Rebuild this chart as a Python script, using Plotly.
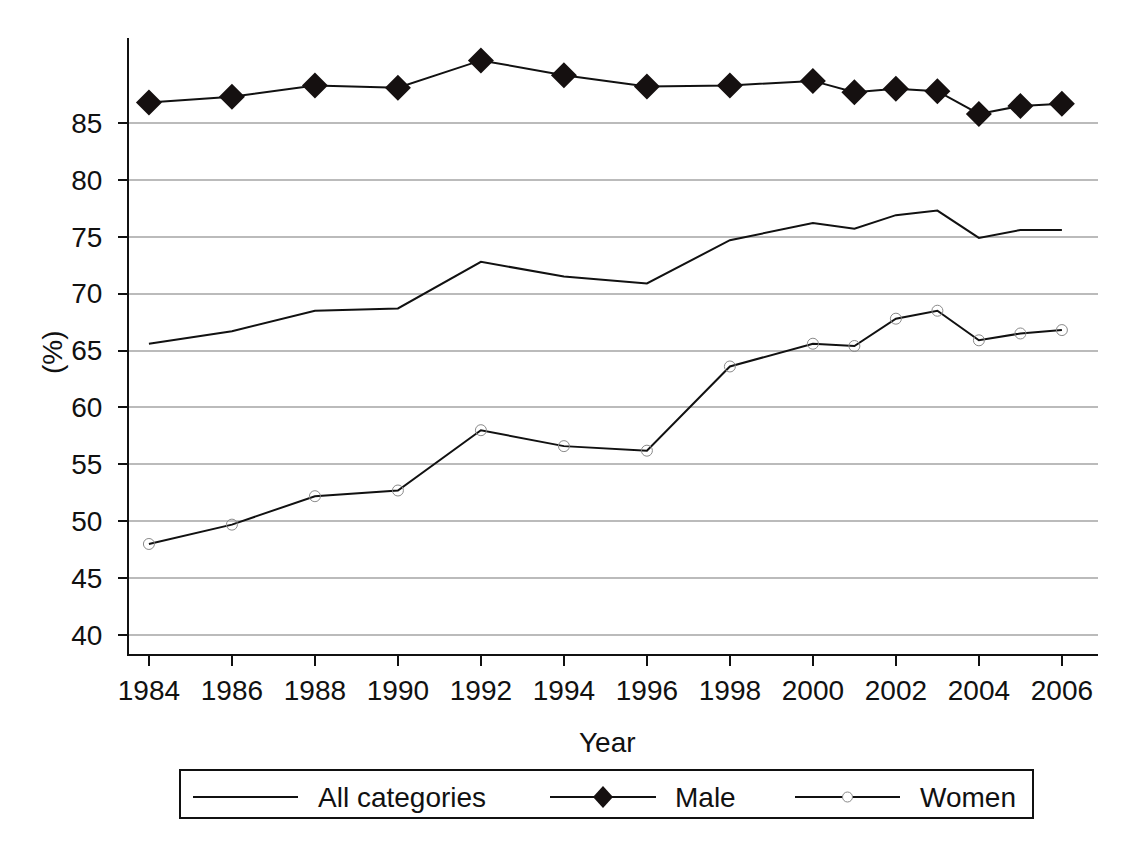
import plotly.graph_objects as go

years = [1984, 1986, 1988, 1990, 1992, 1994, 1996, 1998, 2000, 2001, 2002, 2003, 2004, 2005, 2006]
all_categories = [65.6, 66.7, 68.5, 68.7, 72.8, 71.5, 70.9, 74.7, 76.2, 75.7, 76.9, 77.3, 74.9, 75.6, 75.6]
male = [86.8, 87.3, 88.3, 88.1, 90.5, 89.2, 88.2, 88.3, 88.7, 87.7, 88.0, 87.8, 85.8, 86.5, 86.7]
women = [48.0, 49.7, 52.2, 52.7, 58.0, 56.6, 56.2, 63.6, 65.6, 65.4, 67.8, 68.5, 65.9, 66.5, 66.8]

x_ticks = [1984, 1986, 1988, 1990, 1992, 1994, 1996, 1998, 2000, 2002, 2004, 2006]
y_ticks = [40, 45, 50, 55, 60, 65, 70, 75, 80, 85]
series_names = ["All categories", "Male", "Women"]

font = "Liberation Sans, Arial, Helvetica, sans-serif"
FS = 28
INK = "#111111"

# page body has an 8px margin; figure sized to fit the 1133x854 window
OFF = 8
FW, FH = 1133 - 2 * OFF, 854 - 2 * OFF
# plot area in screen pixels
L, R, T, B = 129, 1098, 38, 654
W, H = R - L, B - T
def px(x):
    return (x - L) / W
def py(y):
    return (B - y) / H

fig = go.Figure()
fig.add_trace(go.Scatter(x=years, y=all_categories, mode="lines", name=series_names[0],
                         line=dict(color=INK, width=2), showlegend=False))
fig.add_trace(go.Scatter(x=years, y=male, mode="lines+markers", name=series_names[1],
                         line=dict(color=INK, width=2),
                         marker=dict(symbol="diamond", size=20, color="#151010",
                                     line=dict(width=0)), showlegend=False))
fig.add_trace(go.Scatter(x=years, y=women, mode="lines+markers", name=series_names[2],
                         line=dict(color=INK, width=2),
                         marker=dict(symbol="circle-open", size=11, color="#8a8a8a",
                                     line=dict(width=1, color="#8a8a8a")), showlegend=False))

shapes = []
annotations = []
# legend frame
shapes.append(dict(type="rect", xref="paper", yref="paper",
                   x0=px(180), x1=px(1033), y0=py(770), y1=py(818),
                   line=dict(color=INK, width=2), fillcolor="rgba(0,0,0,0)"))
ly = py(797)
entries = [(193, 298, 316), (550, 656, 673), (795, 900, 918)]
for i, (a, b, t) in enumerate(entries):
    shapes.append(dict(type="line", xref="paper", yref="paper", x0=px(a), x1=px(b),
                       y0=ly, y1=ly, line=dict(color=INK, width=2)))
    annotations.append(dict(text=series_names[i], xref="paper", yref="paper",
                            x=px(t), y=ly, xanchor="left", yanchor="middle",
                            showarrow=False, font=dict(size=FS, color=INK)))
# legend diamond
cx = (550 + 656) / 2
dx, dy = 10, 11
shapes.append(dict(type="path", xref="paper", yref="paper",
                   path=f"M {px(cx - dx)},{ly} L {px(cx)},{py(797 - dy)} L {px(cx + dx)},{ly} L {px(cx)},{py(797 + dy)} Z",
                   fillcolor="#151010", line=dict(width=0)))
# legend circle
cx2 = (795 + 900) / 2
r = 5
shapes.append(dict(type="circle", xref="paper", yref="paper",
                   x0=px(cx2 - r), x1=px(cx2 + r), y0=py(797 + r), y1=py(797 - r),
                   fillcolor="white", line=dict(color="#8a8a8a", width=1)))

# axis titles
annotations.append(dict(text="Year", xref="paper", yref="paper", x=px(607), y=py(742),
                        xanchor="center", yanchor="middle", showarrow=False,
                        font=dict(size=FS, color=INK)))
annotations.append(dict(text="(%)", xref="paper", yref="paper", x=px(52), y=py(352),
                        xanchor="center", yanchor="middle", showarrow=False, textangle=-90,
                        font=dict(size=FS, color=INK)))

fig.update_layout(
    width=FW, height=FH,
    margin=dict(l=L - OFF, r=FW - (R - OFF), t=T - OFF, b=FH - (B - OFF)),
    paper_bgcolor="white", plot_bgcolor="white",
    font=dict(family=font, size=FS, color=INK),
    showlegend=False,
    shapes=shapes, annotations=annotations,
)
fig.update_xaxes(range=[1983.52, 2006.87], tickvals=x_ticks, showgrid=False,
                 showline=True, linecolor=INK, linewidth=2,
                 ticks="outside", ticklen=10, tickwidth=2, tickcolor=INK,
                 zeroline=False, automargin=False, ticklabelstandoff=0,
                 tickfont=dict(size=FS))
fig.update_yaxes(range=[38.33, 92.47], tickvals=y_ticks, showgrid=True,
                 gridcolor="#bbbbbb", gridwidth=2,
                 showline=True, linecolor=INK, linewidth=2,
                 ticks="outside", ticklen=9, tickwidth=2, tickcolor=INK,
                 zeroline=False, automargin=False, ticklabelstandoff=10,
                 tickfont=dict(size=FS))

fig.write_html("out.html")
